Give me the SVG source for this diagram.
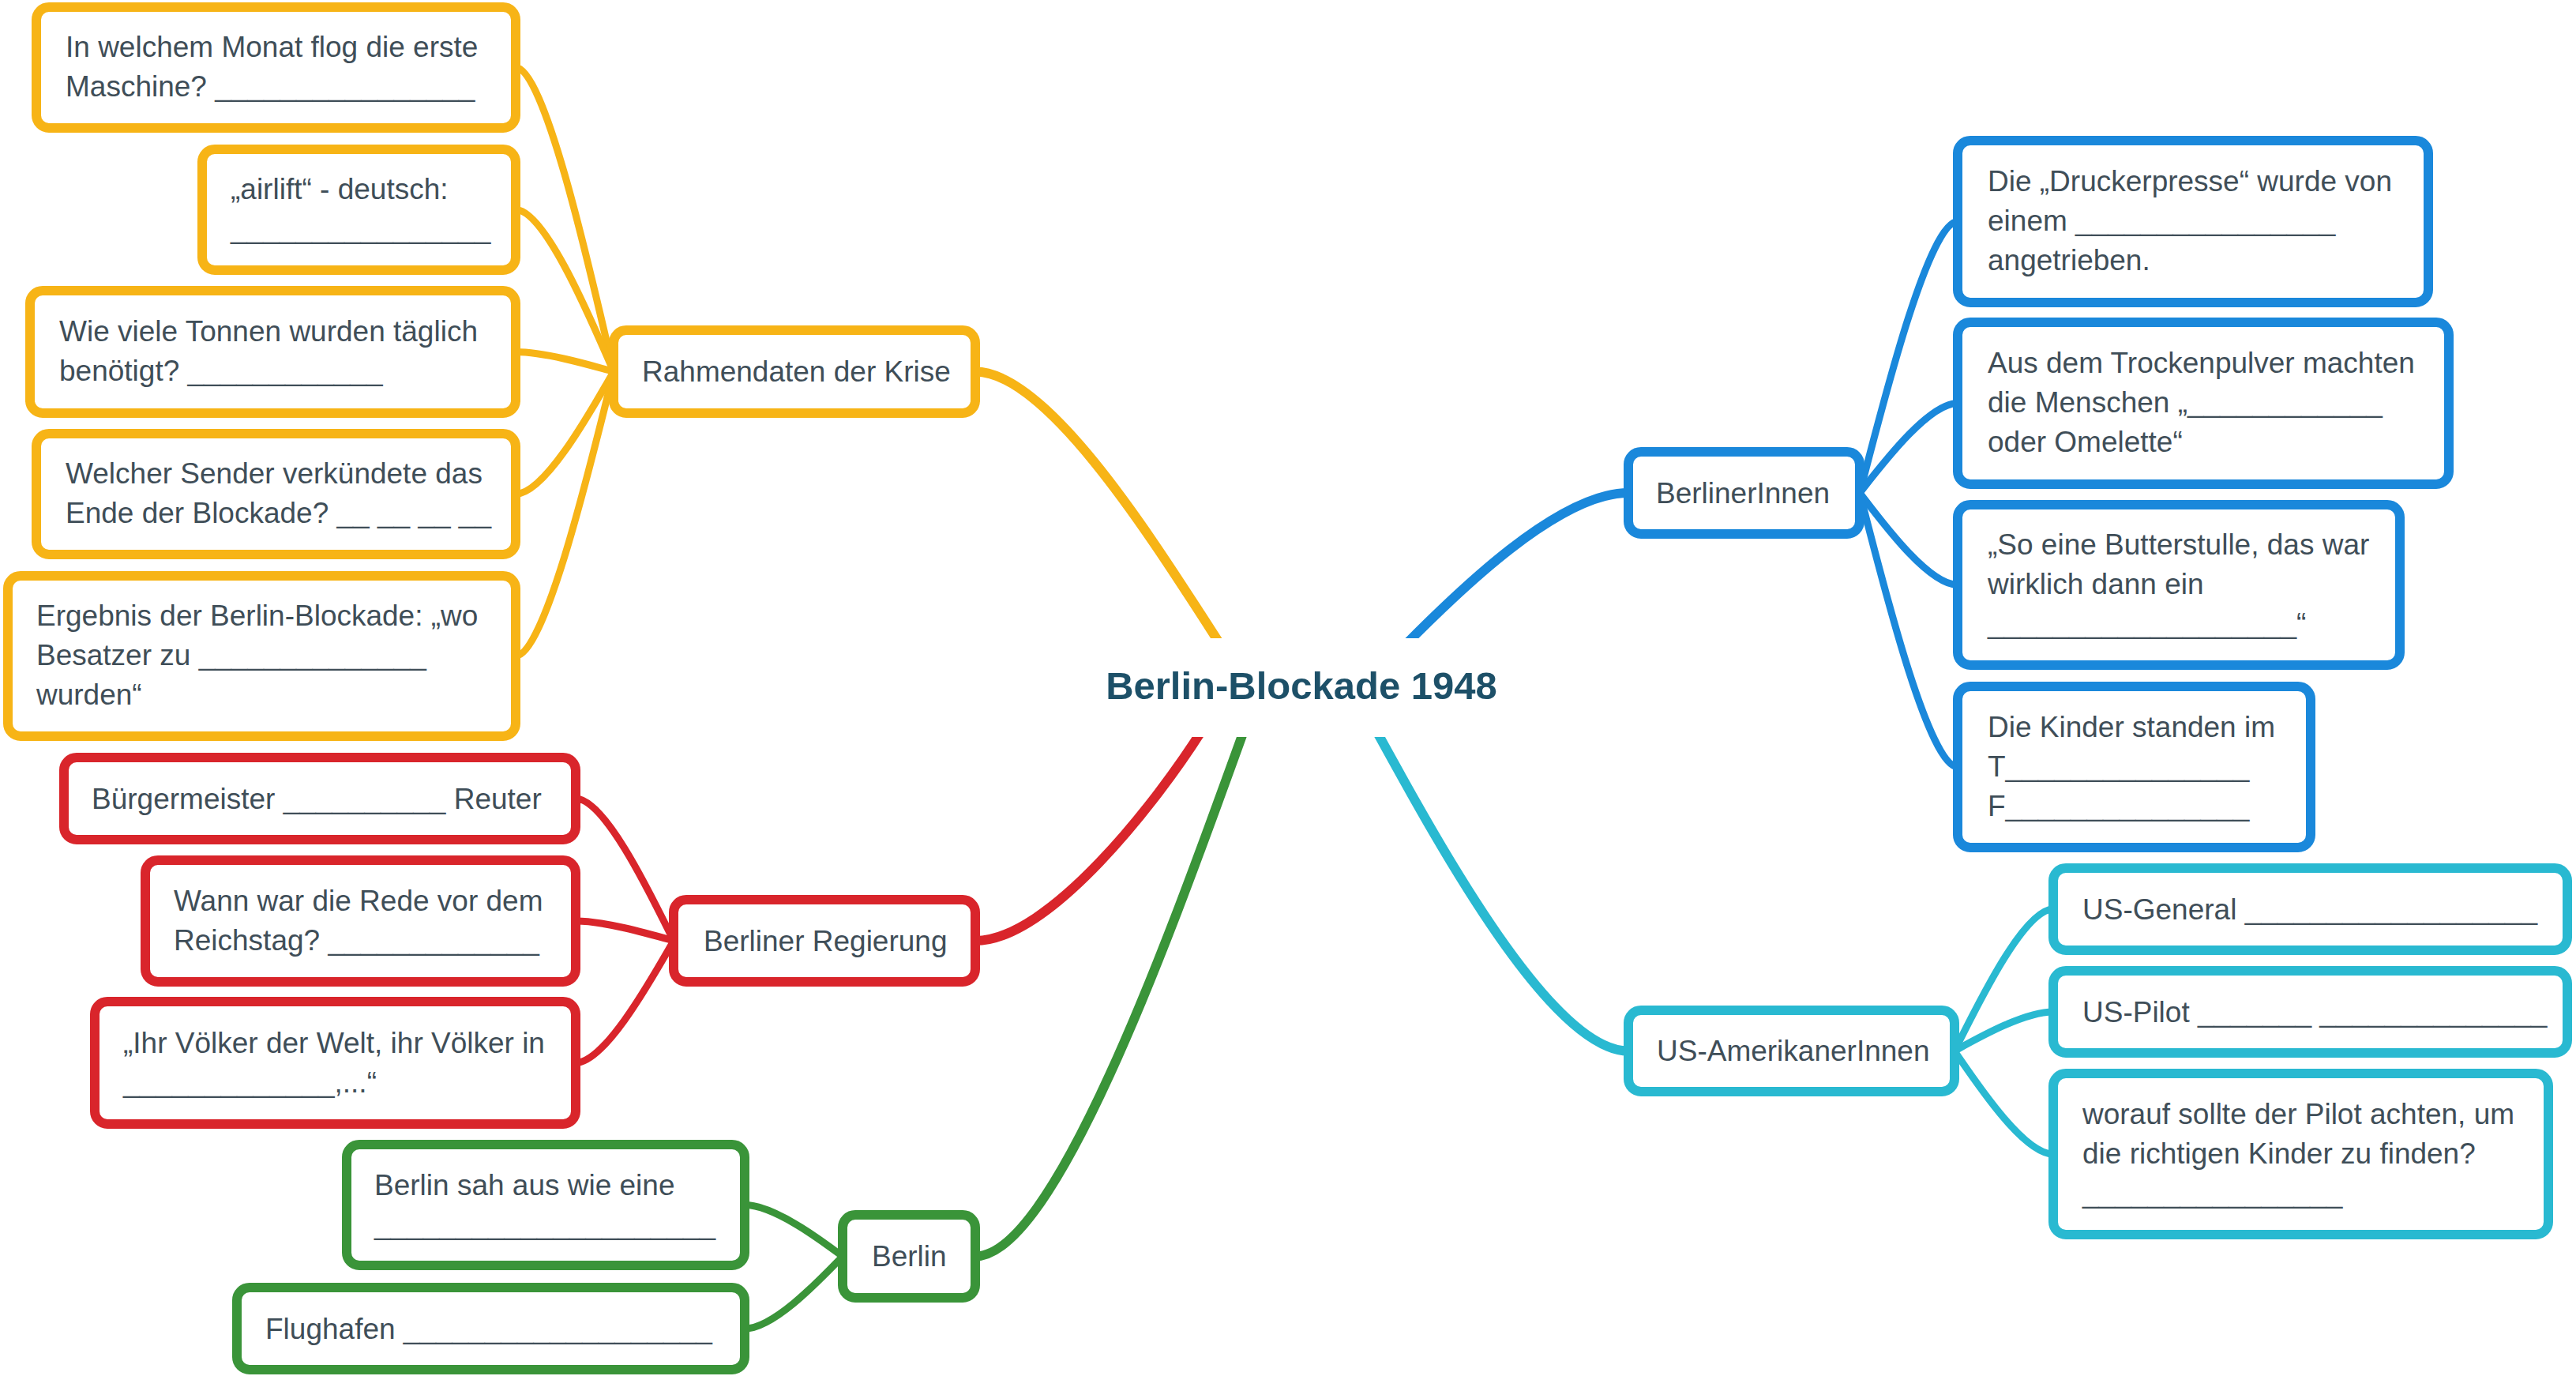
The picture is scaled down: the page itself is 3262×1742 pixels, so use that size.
<svg xmlns="http://www.w3.org/2000/svg" width="3262" height="1742" viewBox="0 0 3262 1742">
<style>
.bg{fill:#ffffff}
.n{fill:#ffffff;stroke-width:12}
.t{font-family:"Liberation Sans",Arial,sans-serif;font-size:37px;fill:#3f4e58}
.title{font-family:"Liberation Sans",Arial,sans-serif;font-size:49px;font-weight:bold;fill:#1d5068}
.c{fill:none}
.main{stroke-width:12}
.sub{stroke-width:9}
.y{stroke:#f7b416}
.r{stroke:#d9252b}
.g{stroke:#3a9439}
.b{stroke:#1a88db}
.cy{stroke:#29b9d1}
</style>
<rect class="bg" x="0" y="0" width="3262" height="1742"/>
<g id="connectors" class="c">
  <path class="main y" d="M1235,470.5 C1330,470.5 1470,700 1548,820"/>
  <path class="main b" d="M2062,624 C1974,624 1847,748 1776,820"/>
  <path class="main r" d="M1235,1191 C1328,1191 1465,1016 1525,920"/>
  <path class="main g" d="M1235,1590.5 C1340,1590.5 1496,1143 1577,920"/>
  <path class="main cy" d="M2062,1330.5 C1963,1330.5 1817,1060 1740,920"/>
  <path class="sub y" d="M653,85.5 C690,85.5 748.5,347.3 777,470.5"/>
  <path class="sub y" d="M653,265.5 C690,265.5 748.5,404.9 777,470.5"/>
  <path class="sub y" d="M653,445.5 C690,445.5 748.5,462.5 777,470.5"/>
  <path class="sub y" d="M653,625.5 C690,625.5 748.5,520.1 777,470.5"/>
  <path class="sub y" d="M653,830.5 C690,830.5 748.5,585.7 777,470.5"/>
  <path class="sub r" d="M729,1011 C766,1011 824.5,1133.4 853,1191"/>
  <path class="sub r" d="M729,1166 C766,1166 824.5,1183 853,1191"/>
  <path class="sub r" d="M729,1345.5 C766,1345.5 824.5,1240.4 853,1191"/>
  <path class="sub g" d="M943,1525.5 C980,1525.5 1038.5,1569.2 1067,1590.5"/>
  <path class="sub g" d="M943,1682 C980,1682 1038.5,1619.8 1067,1590.5"/>
  <path class="sub b" d="M2479,280.5 C2442,280.5 2383.5,514.1 2355,624"/>
  <path class="sub b" d="M2479,510.5 C2442,510.5 2383.5,587.7 2355,624"/>
  <path class="sub b" d="M2479,740.5 C2442,740.5 2383.5,661.3 2355,624"/>
  <path class="sub b" d="M2479,971 C2442,971 2383.5,735 2355,624"/>
  <path class="sub cy" d="M2600,1151 C2562.5,1151 2503.8,1273.1 2475,1330.5"/>
  <path class="sub cy" d="M2600,1281 C2562.5,1281 2503.8,1314.7 2475,1330.5"/>
  <path class="sub cy" d="M2600,1461 C2562.5,1461 2503.8,1372.3 2475,1330.5"/>
</g>
<g id="central">
  <rect x="1360" y="808" width="560" height="125" fill="#ffffff"/>
  <text class="title" x="1648" y="885" text-anchor="middle">Berlin-Blockade 1948</text>
</g>
<g id="rahmendaten">
  <rect class="n y" x="777" y="418" width="458" height="105" rx="16"/>
  <text class="t" x="813" y="483">Rahmendaten der Krise</text>
</g>
<g id="y1">
  <rect class="n y" x="46" y="9" width="607" height="153" rx="16"/>
  <text class="t" x="83" y="72">In welchem Monat flog die erste</text>
  <text class="t" x="83" y="122">Maschine? ________________</text>
</g>
<g id="y2">
  <rect class="n y" x="256" y="189" width="397" height="153" rx="16"/>
  <text class="t" x="292" y="252">„airlift“ - deutsch:</text>
  <text class="t" x="292" y="302">________________</text>
</g>
<g id="y3">
  <rect class="n y" x="38" y="368" width="615" height="155" rx="16"/>
  <text class="t" x="75" y="432">Wie viele Tonnen wurden täglich</text>
  <text class="t" x="75" y="482">benötigt? ____________</text>
</g>
<g id="y4">
  <rect class="n y" x="46" y="549" width="607" height="153" rx="16"/>
  <text class="t" x="83" y="612">Welcher Sender verkündete das</text>
  <text class="t" x="83" y="662">Ende der Blockade? __ __ __ __</text>
</g>
<g id="y5">
  <rect class="n y" x="10" y="729" width="643" height="203" rx="16"/>
  <text class="t" x="46" y="792">Ergebnis der Berlin-Blockade: „wo</text>
  <text class="t" x="46" y="842">Besatzer zu ______________</text>
  <text class="t" x="46" y="892">wurden“</text>
</g>
<g id="regierung">
  <rect class="n r" x="853" y="1139" width="382" height="104" rx="16"/>
  <text class="t" x="891" y="1204">Berliner Regierung</text>
</g>
<g id="r1">
  <rect class="n r" x="81" y="959" width="648" height="104" rx="16"/>
  <text class="t" x="116" y="1024">Bürgermeister __________ Reuter</text>
</g>
<g id="r2">
  <rect class="n r" x="184" y="1089" width="545" height="154" rx="16"/>
  <text class="t" x="220" y="1153">Wann war die Rede vor dem</text>
  <text class="t" x="220" y="1203">Reichstag? _____________</text>
</g>
<g id="r3">
  <rect class="n r" x="120" y="1268" width="609" height="155" rx="16"/>
  <text class="t" x="156" y="1333">„Ihr Völker der Welt, ihr Völker in</text>
  <text class="t" x="156" y="1383">_____________,...“</text>
</g>
<g id="berlin">
  <rect class="n g" x="1067" y="1538" width="168" height="105" rx="16"/>
  <text class="t" x="1104" y="1603">Berlin</text>
</g>
<g id="g1">
  <rect class="n g" x="439" y="1449" width="504" height="153" rx="16"/>
  <text class="t" x="474" y="1513">Berlin sah aus wie eine</text>
  <text class="t" x="474" y="1563">_____________________</text>
</g>
<g id="g2">
  <rect class="n g" x="300" y="1630" width="643" height="104" rx="16"/>
  <text class="t" x="336" y="1695">Flughafen ___________________</text>
</g>
<g id="berlinerinnen">
  <rect class="n b" x="2062" y="572" width="293" height="104" rx="16"/>
  <text class="t" x="2097" y="637">BerlinerInnen</text>
</g>
<g id="b1">
  <rect class="n b" x="2479" y="178" width="596" height="205" rx="16"/>
  <text class="t" x="2517" y="242">Die „Druckerpresse“ wurde von</text>
  <text class="t" x="2517" y="292">einem ________________</text>
  <text class="t" x="2517" y="342">angetrieben.</text>
</g>
<g id="b2">
  <rect class="n b" x="2479" y="408" width="622" height="205" rx="16"/>
  <text class="t" x="2517" y="472">Aus dem Trockenpulver machten</text>
  <text class="t" x="2517" y="522">die Menschen „____________</text>
  <text class="t" x="2517" y="572">oder Omelette“</text>
</g>
<g id="b3">
  <rect class="n b" x="2479" y="639" width="560" height="203" rx="16"/>
  <text class="t" x="2517" y="702">„So eine Butterstulle, das war</text>
  <text class="t" x="2517" y="752">wirklich dann ein</text>
  <text class="t" x="2517" y="802">___________________“</text>
</g>
<g id="b4">
  <rect class="n b" x="2479" y="869" width="447" height="204" rx="16"/>
  <text class="t" x="2517" y="933">Die Kinder standen im</text>
  <text class="t" x="2517" y="983">T_______________</text>
  <text class="t" x="2517" y="1033">F_______________</text>
</g>
<g id="amerikaner">
  <rect class="n cy" x="2062" y="1279" width="413" height="103" rx="16"/>
  <text class="t" x="2098" y="1343">US-AmerikanerInnen</text>
</g>
<g id="c1">
  <rect class="n cy" x="2600" y="1099" width="651" height="104" rx="16"/>
  <text class="t" x="2637" y="1164">US-General __________________</text>
</g>
<g id="c2">
  <rect class="n cy" x="2600" y="1229" width="651" height="104" rx="16"/>
  <text class="t" x="2637" y="1294">US-Pilot _______ ______________</text>
</g>
<g id="c3">
  <rect class="n cy" x="2600" y="1359" width="627" height="204" rx="16"/>
  <text class="t" x="2637" y="1423">worauf sollte der Pilot achten, um</text>
  <text class="t" x="2637" y="1473">die richtigen Kinder zu finden?</text>
  <text class="t" x="2637" y="1523">________________</text>
</g>
</svg>
